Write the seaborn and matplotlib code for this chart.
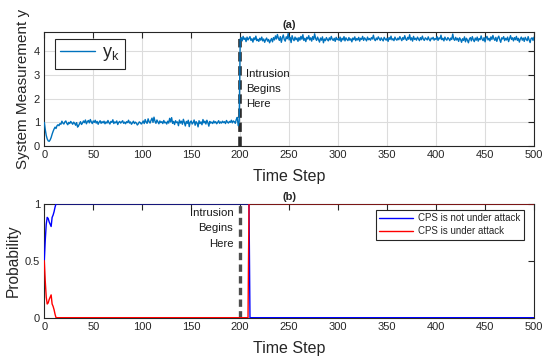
import matplotlib
matplotlib.use("Agg")
import numpy as np
import seaborn as sns
import matplotlib.pyplot as plt

# measurement y_k, time steps 0..199 (before intrusion)
y_before = [
    1.00, 0.70, 0.45, 0.30, 0.22, 0.20, 0.26, 0.36, 0.50, 0.62, 0.72, 0.80, 0.74, 0.86, 0.90, 0.86, 0.95, 0.92, 1.05, 0.97,
    0.93, 1.02, 1.06, 0.96, 0.90, 1.00, 0.95, 1.04, 0.98, 0.92, 1.01, 0.96, 0.88, 0.99, 0.80, 0.86, 0.95, 1.03, 0.91, 0.97,
    1.06, 0.99, 1.10, 0.94, 1.03, 1.08, 0.98, 1.12, 1.02, 0.95, 1.06, 1.00, 1.09, 0.97, 1.04, 0.92, 1.01, 1.07, 0.96, 1.03,
    0.98, 1.05, 0.94, 1.02, 0.97, 1.08, 0.99, 0.93, 1.04, 1.00, 1.11, 0.95, 1.02, 0.98, 1.06, 0.91, 1.00, 1.04, 0.97, 1.02,
    1.07, 0.96, 1.01, 0.94, 1.03, 0.99, 1.09, 0.97, 1.02, 0.92, 0.98, 1.05, 0.95, 1.01, 0.97, 0.89, 0.94, 1.02, 0.99, 0.93,
    0.98, 1.06, 0.95, 1.12, 1.01, 0.96, 1.15, 1.03, 0.97, 1.09, 1.18, 1.00, 1.22, 1.05, 0.96, 1.10, 1.02, 0.94, 1.06, 0.99,
    1.03, 0.95, 1.08, 0.98, 1.01, 0.93, 1.05, 0.97, 1.17, 1.02, 1.20, 0.96, 1.04, 0.91, 1.07, 0.99, 1.02, 0.86, 1.10, 0.97,
    1.05, 0.92, 1.13, 1.00, 0.85, 1.04, 0.96, 1.09, 0.82, 1.01, 1.06, 0.93, 0.99, 1.10, 0.88, 1.03, 0.97, 0.81, 1.07, 0.95,
    1.02, 0.90, 1.12, 0.98, 1.05, 0.93, 1.09, 0.99, 0.84, 1.04, 0.97, 1.01, 0.95, 1.06, 0.98, 1.03, 0.94, 1.00, 1.07, 0.96,
    1.02, 0.97, 1.05, 0.99, 1.03, 0.95, 1.08, 1.01, 0.97, 1.04, 1.00, 1.09, 0.98, 1.06, 1.03, 0.96, 1.12, 1.21, 0.86, 1.05,
]
# time steps 200..500 (after intrusion)
y_after = [
    4.52, 4.58, 4.44, 4.63, 4.50, 4.56, 4.41, 4.60, 4.48, 4.55, 4.62, 4.46, 4.53, 4.39, 4.57, 4.49, 4.64, 4.45, 4.51, 4.42,
    4.55, 4.47, 4.60, 4.44, 4.52, 4.38, 4.49, 4.56, 4.43, 4.50, 4.36, 4.46, 4.54, 4.40, 4.58, 4.48, 4.65, 4.52, 4.71, 4.55,
    4.46, 4.62, 4.38, 4.57, 4.69, 4.50, 4.43, 4.61, 4.53, 4.75, 4.48, 4.59, 4.37, 4.66, 4.52, 4.45, 4.60, 4.49, 4.56, 4.42,
    4.58, 4.47, 4.63, 4.51, 4.70, 4.46, 4.55, 4.41, 4.59, 4.52, 4.66, 4.48, 4.57, 4.43, 4.62, 4.50, 4.74, 4.54, 4.46, 4.60,
    4.49, 4.39, 4.56, 4.47, 4.61, 4.36, 4.52, 4.45, 4.58, 4.50, 4.44, 4.57, 4.48, 4.63, 4.51, 4.46, 4.55, 4.42, 4.59, 4.49,
    4.53, 4.46, 4.60, 4.41, 4.55, 4.48, 4.62, 4.44, 4.57, 4.50, 4.45, 4.58, 4.47, 4.53, 4.40, 4.56, 4.49, 4.61, 4.45, 4.54,
    4.48, 4.59, 4.43, 4.55, 4.50, 4.63, 4.46, 4.57, 4.51, 4.44, 4.60, 4.49, 4.54, 4.47, 4.58, 4.52, 4.68, 4.50, 4.45, 4.56,
    4.49, 4.61, 4.53, 4.46, 4.57, 4.50, 4.44, 4.59, 4.52, 4.47, 4.55, 4.42, 4.58, 4.50, 4.64, 4.48, 4.53, 4.45, 4.60, 4.51,
    4.47, 4.56, 4.49, 4.62, 4.54, 4.45, 4.58, 4.50, 4.66, 4.52, 4.46, 4.59, 4.51, 4.70, 4.48, 4.57, 4.43, 4.63, 4.50, 4.55,
    4.47, 4.60, 4.52, 4.45, 4.58, 4.49, 4.64, 4.51, 4.46, 4.57, 4.53, 4.48, 4.61, 4.50, 4.44, 4.56, 4.52, 4.59, 4.47, 4.54,
    4.50, 4.62, 4.46, 4.57, 4.52, 4.68, 4.49, 4.55, 4.44, 4.60, 4.51, 4.47, 4.58, 4.53, 4.45, 4.56, 4.50, 4.73, 4.52, 4.46,
    4.59, 4.48, 4.55, 4.42, 4.57, 4.50, 4.38, 4.53, 4.46, 4.61, 4.40, 4.55, 4.47, 4.36, 4.52, 4.58, 4.44, 4.62, 4.49, 4.41,
    4.56, 4.47, 4.60, 4.43, 4.54, 4.49, 4.65, 4.51, 4.45, 4.58, 4.40, 4.57, 4.63, 4.48, 4.55, 4.44, 4.61, 4.50, 4.67, 4.53,
    4.46, 4.59, 4.42, 4.56, 4.64, 4.49, 4.38, 4.57, 4.52, 4.62, 4.45, 4.55, 4.48, 4.60, 4.41, 4.54, 4.66, 4.50, 4.57, 4.44,
    4.58, 4.49, 4.63, 4.46, 4.55, 4.39, 4.52, 4.60, 4.47, 4.56, 4.42, 4.59, 4.51, 4.45, 4.62, 4.48, 4.37, 4.54, 4.57, 4.46,
    4.60,
]
y_meas = y_before + y_after
steps = list(range(len(y_meas)))

# posterior probabilities, steps 0..12, then constant until switch
p_normal_start = [0.50, 0.68, 0.82, 0.88, 0.87, 0.84, 0.82, 0.80, 0.88, 0.90, 0.93, 0.97, 1.00]
p_attack_start = [0.50, 0.32, 0.18, 0.12, 0.13, 0.16, 0.18, 0.20, 0.12, 0.10, 0.07, 0.03, 0.00]
p_normal = p_normal_start + [1.0] * (210 - 13) + [0.0] * (501 - 210)
p_attack = p_attack_start + [0.0] * (209 - 13) + [1.0] * (501 - 209)

intrusion_step = 200

sns.set_theme(style="white")
plt.rcParams["font.family"] = ["Liberation Sans", "DejaVu Sans"]
plt.rcParams["mathtext.fontset"] = "custom"
plt.rcParams["mathtext.rm"] = "Liberation Sans"

edge = "#262626"
fig = plt.figure(figsize=(5.42, 3.58), dpi=100)
ax1 = fig.add_axes([0.0817, 0.592, 0.9036, 0.3176])
ax2 = fig.add_axes([0.0817, 0.1126, 0.9036, 0.3184])

# (a) measurement
ax1.plot([intrusion_step, intrusion_step], [0, 4.5], color="#2b2b2b", lw=2.6,
         dashes=(2.6, 1.3), zorder=2)
sns.lineplot(x=steps, y=y_meas, ax=ax1, color="#0072BD", lw=1.0, label=r"$\mathregular{y_k}$", zorder=3)
ax1.set_xlim(0, 500)
ax1.set_ylim(0, 4.8)
ax1.set_yticks([0, 1, 2, 3, 4])
ax1.set_xticks(range(0, 501, 50))
ax1.grid(True, color="#dcdcdc", lw=0.8)
ax1.set_axisbelow(True)
ax1.text(206, 3.27, "Intrusion\nBegins\nHere", fontsize=8.2, va="top", ha="left",
         linespacing=1.68, color="#1a1a1a")
ax1.set_title("(a)", fontsize=8, fontweight="bold", pad=3)
ax1.set_xlabel("Time Step", fontsize=11.5, labelpad=6.5)
ax1.set_ylabel("System Measurement y", fontsize=11, labelpad=3)
leg1 = ax1.legend(loc="upper left", bbox_to_anchor=(0.021, 0.941), borderaxespad=0,
                  fontsize=13, handlelength=1.95, fancybox=False, framealpha=1,
                  borderpad=0.3, handletextpad=0.4)
leg1.get_frame().set_edgecolor(edge)
leg1.get_frame().set_linewidth(0.8)

# (b) probabilities
ax2.plot([intrusion_step, intrusion_step], [0, 1], color="#4d4d4d", lw=2.4,
         dashes=(2.2, 1.3), zorder=2)
sns.lineplot(x=steps, y=p_normal, ax=ax2, color="#0000FF", lw=1.0,
             label="CPS is not under attack", zorder=3)
sns.lineplot(x=steps, y=p_attack, ax=ax2, color="#FF0000", lw=1.0,
             label="CPS is under attack", zorder=4)
ax2.set_xlim(0, 500)
ax2.set_ylim(0, 1)
ax2.set_yticks([0, 0.5, 1])
ax2.set_yticklabels(["0", "0.5", "1"])
ax2.set_xticks(range(0, 501, 50))
ax2.text(193, 0.965, "Intrusion\nBegins\nHere", fontsize=8.2, va="top", ha="right",
         linespacing=1.68, color="#1a1a1a")
ax2.set_title("(b)", fontsize=8, fontweight="bold", pad=3)
ax2.set_xlabel("Time Step", fontsize=11.5, labelpad=6.5)
ax2.set_ylabel("Probability", fontsize=11.2, labelpad=3)
leg2 = ax2.legend(loc="upper right", bbox_to_anchor=(0.979, 0.945), borderaxespad=0,
                  fontsize=7.0, handlelength=3.5, fancybox=False, framealpha=1,
                  borderpad=0.35, handletextpad=0.5, labelspacing=0.3)
leg2.get_frame().set_edgecolor(edge)
leg2.get_frame().set_linewidth(0.8)

for ax in (ax1, ax2):
    for sp in ax.spines.values():
        sp.set_color(edge)
        sp.set_linewidth(0.8)
    ax.tick_params(direction="in", length=4, width=0.8, colors=edge, labelsize=8,
                   top=True, right=True, pad=3)

fig.savefig("out.png", dpi=100)
